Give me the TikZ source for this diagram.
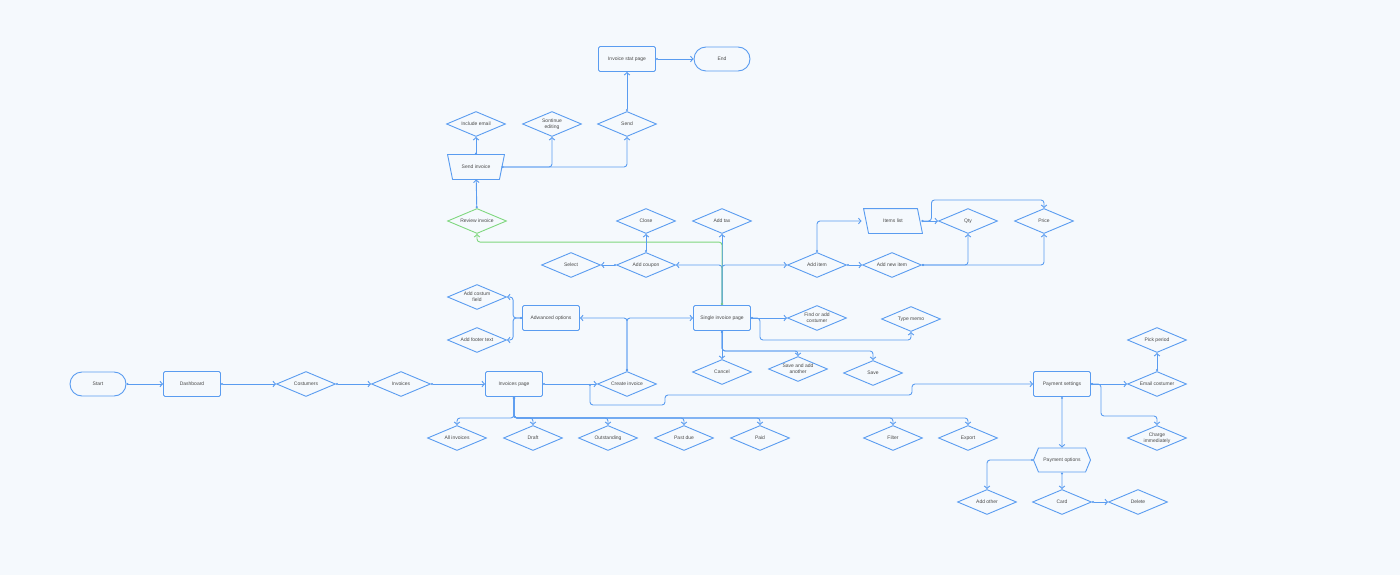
\documentclass[tikz,border=0pt]{standalone}
\usepackage{fontspec}
\setmainfont{Liberation Sans}
\usetikzlibrary{arrows.meta,shapes.geometric,shapes.symbols}
\definecolor{bg}{HTML}{F5F9FD}
\definecolor{lineblue}{HTML}{5A9CF0}
\definecolor{lgreen}{HTML}{7FD77F}
\definecolor{txt}{HTML}{4A4A4A}
\begin{document}
\begin{tikzpicture}[x=1pt,y=-1pt,
  base/.style={draw=lineblue,line width=0.9pt,fill=bg,text=txt,align=center,inner sep=0pt,
    font=\fontsize{5}{6.2}\selectfont},
  term/.style={base,rectangle,rounded corners=12pt,minimum width=56,minimum height=24},
  page/.style={base,rectangle,rounded corners=1.5pt,minimum width=57,minimum height=25},
  dec/.style={base,diamond,aspect=2.4,minimum width=59,minimum height=25},
  slant/.style={base,draw=none,fill=none,rectangle,minimum width=56,minimum height=24},
  hex/.style={base,signal,signal to=west and east,signal pointer angle=135,minimum width=57,minimum height=24},
  border/.style={draw=lineblue,line width=0.9pt,line join=round},
  line/.style={draw=lineblue,line width=0.9pt,rounded corners=3pt,
    {Circle[length=2pt]}-{Straight Barb[length=2.5pt,width=5.5pt]}},
  gline/.style={line,draw=lgreen}]
\fill[bg] (0,0) rectangle (1400,575);
\useasboundingbox (0,0) rectangle (1400,575);
% main row
\node[term] (start) at (98,384) {Start};
\node[page] (dash) at (192,384) {Dashboard};
\node[dec] (cust) at (306,384) {Costumers};
\node[dec] (inv) at (401,384) {Invoices};
\node[page] (invpage) at (514,384) {Invoices page};
\node[dec] (create) at (627,384) {Create invoice};
\node[page] (payset) at (1062,384) {Payment settings};
% invoice filters
\node[dec] (all) at (457,438) {All invoices};
\node[dec] (draft) at (533,438) {Draft};
\node[dec] (outst) at (608,438) {Outstanding};
\node[dec] (pastdue) at (684,438) {Past due};
\node[dec] (paid) at (760,438) {Paid};
\node[dec] (filter) at (893,438) {Filter};
\node[dec] (export) at (968,438) {Export};
% single invoice
\node[page] (single) at (722,318) {Single invoice page};
\node[page] (adv) at (551,318) {Adwanced options};
\node[dec] (field) at (477,297) {Add costum\\field};
\node[dec] (footer) at (477,340) {Add footer text};
\node[dec] (findc) at (817,318) {Find or add\\costumer};
\node[dec] (memo) at (911,319) {Type memo};
\node[dec] (cancel) at (722,372) {Cancel};
\node[dec] (saveadd) at (798,369) {Save and add\\another};
\node[dec] (save) at (873,373) {Save};
% items and coupons
\node[dec] (coupon) at (646,265) {Add coupon};
\node[dec] (select) at (571,265) {Select};
\node[dec] (close) at (646,221) {Close};
\node[dec] (tax) at (722,221) {Add tax};
\node[dec] (item) at (817,265) {Add item};
\node[dec] (newitem) at (892,265) {Add new item};
\node[slant] (items) at (893,221) {Items list};
\draw[border] ([xshift=-1]items.north west)--([xshift=-4]items.north east)
  --([xshift=1]items.south east)--([xshift=4]items.south west)--cycle;
\node[dec] (qty) at (968,221) {Qty};
\node[dec] (price) at (1044,221) {Price};
% sending
\node[dec,draw=lgreen] (review) at (477,221) {Review invoice};
\node[slant] (sendinv) at (476,167) {Send invoice};
\draw[border] (sendinv.north west)--(sendinv.north east)
  --([xshift=-5]sendinv.south east)--([xshift=5]sendinv.south west)--cycle;
\node[dec] (incl) at (476,124) {Include email};
\node[dec] (cont) at (552,124) {Sontinue\\editing};
\node[dec] (send) at (627,124) {Send};
\node[page] (stat) at (627,59) {Invoice stat page};
\node[term] (endn) at (722,59) {End};
% payment
\node[dec] (emailc) at (1157,384) {Email costumer};
\node[dec] (pick) at (1157,340) {Pick period};
\node[dec] (charge) at (1157,438) {Charge\\immediately};
\node[hex] (payopt) at (1062,460) {Payment options};
\node[dec] (other) at (987,502) {Add other};
\node[dec] (card) at (1062,502) {Card};
\node[dec] (delete) at (1138,502) {Delete};
\coordinate (tap) at (590,384);
% connectors
\draw[line] (start)--(dash);\draw[line] (dash)--(cust);
\draw[line] (cust)--(inv);\draw[line] (inv)--(invpage);
\draw[line] (invpage)--(create);
\draw[line] (tap)--(590,405)--(665,405)--(665,395)--(912,395)--(912,384)--(payset.west);
\foreach \n in {all,draft,outst,pastdue,paid,filter,export}
  {\draw[line] (invpage.south)--++(0,21)-|(\n.north);}
\draw[line] (create.north)|-(adv.east);\draw[line] (create.north)|-(single.west);
\draw[line] (adv.west)--++(-9,0)|-(field.east);\draw[line] (adv.west)--++(-9,0)|-(footer.east);
\draw[line] (single)--(findc);
\draw[line] (single.east)--++(9,0)--++(0,22)-|(memo.south);
\draw[line] (single)--(cancel);
\draw[line] (single.south)--++(0,20)-|(saveadd.north);
\draw[line] (single.south)--++(0,20)-|(save.north);
\draw[line] (single.north)|-(coupon.east);\draw[line] (single.north)|-(item.west);
\draw[line] (single.north)--(tax.south);
\draw[gline] (single.north)--++(0,-63)-|(review.south);
\draw[line] (coupon)--(select);\draw[line] (coupon)--(close);
\draw[line] (item.north)|-([xshift=-3]items.west);\draw[line] (item)--(newitem);
\draw[line] (newitem.east)-|(qty.south);\draw[line] (newitem.east)-|(price.south);
\draw[line] (items)--(qty);
\draw[line] (items.east)--++(10,0)--++(0,-21)-|(price.north);
\draw[line] (review)--(sendinv);\draw[line] (sendinv)--(incl);
\draw[line] ([xshift=-3]sendinv.east)-|(cont.south);\draw[line] ([xshift=-3]sendinv.east)-|(send.south);
\draw[line] (send)--(stat);\draw[line] (stat)--(endn);
\draw[line] (payset)--(emailc);
\draw[line] (payset.east)--++(10,0)--++(0,32)-|(charge.north);
\draw[line] (emailc)--(pick);\draw[line] (payset)--(payopt);
\draw[line] (payopt.west)-|(other.north);
\draw[line] (payopt)--(card);\draw[line] (card)--(delete);
\end{tikzpicture}
\end{document}
